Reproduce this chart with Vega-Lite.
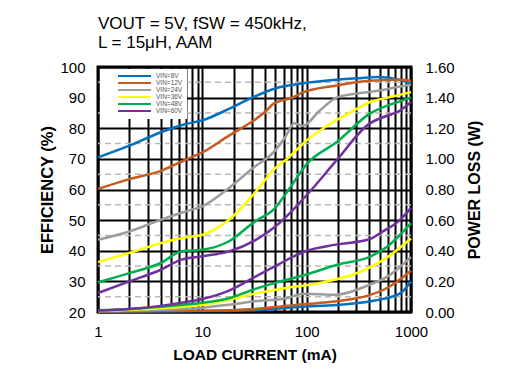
{
  "$schema": "https://vega.github.io/schema/vega-lite/v6.json",
  "width": 313,
  "height": 245,
  "autosize": {"type": "none"},
  "padding": {"left": 98, "top": 67, "right": 117, "bottom": 71},
  "background": "white",
  "title": {
    "text": "VOUT = 5V, fSW = 450kHz,",
    "subtitle": "L = 15μH, AAM",
    "anchor": "start",
    "frame": "group",
    "font": "Liberation Sans",
    "fontSize": 17,
    "fontWeight": "normal",
    "color": "black",
    "subtitleFont": "Liberation Sans",
    "subtitleFontSize": 17,
    "subtitleColor": "black",
    "subtitlePadding": 2,
    "offset": 8
  },
  "config": {
    "view": {"stroke": "black", "strokeWidth": 3},
    "font": "Liberation Sans",
    "axis": {
      "domain": false,
      "ticks": false,
      "labelFontSize": 15,
      "labelColor": "black",
      "titleFontSize": 16,
      "titleFontWeight": "bold",
      "titleColor": "black",
      "gridColor": "black",
      "gridWidth": 2,
      "gridOpacity": 1
    }
  },
  "data": {
    "values": [
      {"s":"VIN=8V","m":"e","i":1,"v":70.5},{"s":"VIN=8V","m":"e","i":2,"v":74.3},{"s":"VIN=8V","m":"e","i":4,"v":78.7},{"s":"VIN=8V","m":"e","i":7,"v":81.4},{"s":"VIN=8V","m":"e","i":10,"v":82.6},{"s":"VIN=8V","m":"e","i":18,"v":86.3},{"s":"VIN=8V","m":"e","i":30,"v":90},{"s":"VIN=8V","m":"e","i":50,"v":93},{"s":"VIN=8V","m":"e","i":90,"v":94.6},{"s":"VIN=8V","m":"e","i":190,"v":95.8},{"s":"VIN=8V","m":"e","i":300,"v":96.3},{"s":"VIN=8V","m":"e","i":500,"v":96.7},{"s":"VIN=8V","m":"e","i":780,"v":95.8},{"s":"VIN=8V","m":"e","i":1000,"v":94.6},
      {"s":"VIN=12V","m":"e","i":1,"v":60.2},{"s":"VIN=12V","m":"e","i":2,"v":63.4},{"s":"VIN=12V","m":"e","i":4,"v":66.1},{"s":"VIN=12V","m":"e","i":7,"v":69.8},{"s":"VIN=12V","m":"e","i":10,"v":72.1},{"s":"VIN=12V","m":"e","i":18,"v":77.6},{"s":"VIN=12V","m":"e","i":31,"v":82.5},{"s":"VIN=12V","m":"e","i":41,"v":85.7},{"s":"VIN=12V","m":"e","i":48,"v":88},{"s":"VIN=12V","m":"e","i":74,"v":90.1},{"s":"VIN=12V","m":"e","i":92,"v":91.7},{"s":"VIN=12V","m":"e","i":190,"v":93.9},{"s":"VIN=12V","m":"e","i":400,"v":95.5},{"s":"VIN=12V","m":"e","i":780,"v":95.8},{"s":"VIN=12V","m":"e","i":1000,"v":95.5},
      {"s":"VIN=24V","m":"e","i":1,"v":43.6},{"s":"VIN=24V","m":"e","i":2,"v":46.3},{"s":"VIN=24V","m":"e","i":4,"v":50.1},{"s":"VIN=24V","m":"e","i":7,"v":52.9},{"s":"VIN=24V","m":"e","i":10,"v":54.5},{"s":"VIN=24V","m":"e","i":18,"v":60.5},{"s":"VIN=24V","m":"e","i":31,"v":67.2},{"s":"VIN=24V","m":"e","i":48,"v":72.1},{"s":"VIN=24V","m":"e","i":62,"v":77},{"s":"VIN=24V","m":"e","i":76,"v":81.6},{"s":"VIN=24V","m":"e","i":92,"v":80.8},{"s":"VIN=24V","m":"e","i":133,"v":85.7},{"s":"VIN=24V","m":"e","i":193,"v":90},{"s":"VIN=24V","m":"e","i":280,"v":91.2},{"s":"VIN=24V","m":"e","i":500,"v":92.3},{"s":"VIN=24V","m":"e","i":780,"v":93.6},{"s":"VIN=24V","m":"e","i":1000,"v":94.2},
      {"s":"VIN=36V","m":"e","i":1,"v":36.3},{"s":"VIN=36V","m":"e","i":2,"v":39.3},{"s":"VIN=36V","m":"e","i":4,"v":42.5},{"s":"VIN=36V","m":"e","i":7,"v":44.4},{"s":"VIN=36V","m":"e","i":10,"v":45.2},{"s":"VIN=36V","m":"e","i":18,"v":50.1},{"s":"VIN=36V","m":"e","i":32,"v":59},{"s":"VIN=36V","m":"e","i":50,"v":67},{"s":"VIN=36V","m":"e","i":64,"v":69.8},{"s":"VIN=36V","m":"e","i":100,"v":76},{"s":"VIN=36V","m":"e","i":160,"v":81},{"s":"VIN=36V","m":"e","i":280,"v":85.7},{"s":"VIN=36V","m":"e","i":400,"v":88.5},{"s":"VIN=36V","m":"e","i":600,"v":90},{"s":"VIN=36V","m":"e","i":1000,"v":91.8},
      {"s":"VIN=48V","m":"e","i":1,"v":29.7},{"s":"VIN=48V","m":"e","i":2,"v":32.7},{"s":"VIN=48V","m":"e","i":4,"v":36},{"s":"VIN=48V","m":"e","i":6.3,"v":39.8},{"s":"VIN=48V","m":"e","i":10,"v":40.3},{"s":"VIN=48V","m":"e","i":18,"v":43.1},{"s":"VIN=48V","m":"e","i":32,"v":49.6},{"s":"VIN=48V","m":"e","i":48,"v":53.4},{"s":"VIN=48V","m":"e","i":69,"v":60.5},{"s":"VIN=48V","m":"e","i":100,"v":68.3},{"s":"VIN=48V","m":"e","i":193,"v":75.4},{"s":"VIN=48V","m":"e","i":400,"v":84.7},{"s":"VIN=48V","m":"e","i":780,"v":88.8},{"s":"VIN=48V","m":"e","i":1000,"v":90.1},
      {"s":"VIN=60V","m":"e","i":1,"v":26.2},{"s":"VIN=60V","m":"e","i":2,"v":30},{"s":"VIN=60V","m":"e","i":4,"v":33.8},{"s":"VIN=60V","m":"e","i":6.3,"v":37.1},{"s":"VIN=60V","m":"e","i":10,"v":38.2},{"s":"VIN=60V","m":"e","i":18,"v":39.8},{"s":"VIN=60V","m":"e","i":32,"v":43.4},{"s":"VIN=60V","m":"e","i":48,"v":47.4},{"s":"VIN=60V","m":"e","i":69,"v":52.3},{"s":"VIN=60V","m":"e","i":115,"v":60.5},{"s":"VIN=60V","m":"e","i":193,"v":69.5},{"s":"VIN=60V","m":"e","i":400,"v":81.5},{"s":"VIN=60V","m":"e","i":580,"v":84},{"s":"VIN=60V","m":"e","i":780,"v":85.7},{"s":"VIN=60V","m":"e","i":1000,"v":88.6},
      {"s":"VIN=8V","m":"p","i":1,"v":0.002},{"s":"VIN=8V","m":"p","i":10,"v":0.006},{"s":"VIN=8V","m":"p","i":32,"v":0.012},{"s":"VIN=8V","m":"p","i":92,"v":0.035},{"s":"VIN=8V","m":"p","i":193,"v":0.045},{"s":"VIN=8V","m":"p","i":450,"v":0.075},{"s":"VIN=8V","m":"p","i":780,"v":0.12},{"s":"VIN=8V","m":"p","i":1000,"v":0.2},
      {"s":"VIN=12V","m":"p","i":1,"v":0.003},{"s":"VIN=12V","m":"p","i":10,"v":0.008},{"s":"VIN=12V","m":"p","i":32,"v":0.02},{"s":"VIN=12V","m":"p","i":92,"v":0.05},{"s":"VIN=12V","m":"p","i":193,"v":0.07},{"s":"VIN=12V","m":"p","i":400,"v":0.11},{"s":"VIN=12V","m":"p","i":600,"v":0.16},{"s":"VIN=12V","m":"p","i":1000,"v":0.27},
      {"s":"VIN=24V","m":"p","i":1,"v":0.006},{"s":"VIN=24V","m":"p","i":4,"v":0.015},{"s":"VIN=24V","m":"p","i":10,"v":0.028},{"s":"VIN=24V","m":"p","i":18,"v":0.048},{"s":"VIN=24V","m":"p","i":32,"v":0.07},{"s":"VIN=24V","m":"p","i":64,"v":0.09},{"s":"VIN=24V","m":"p","i":92,"v":0.12},{"s":"VIN=24V","m":"p","i":193,"v":0.113},{"s":"VIN=24V","m":"p","i":400,"v":0.178},{"s":"VIN=24V","m":"p","i":600,"v":0.233},{"s":"VIN=24V","m":"p","i":1000,"v":0.36},
      {"s":"VIN=36V","m":"p","i":1,"v":0.009},{"s":"VIN=36V","m":"p","i":4,"v":0.025},{"s":"VIN=36V","m":"p","i":10,"v":0.048},{"s":"VIN=36V","m":"p","i":18,"v":0.08},{"s":"VIN=36V","m":"p","i":32,"v":0.12},{"s":"VIN=36V","m":"p","i":64,"v":0.157},{"s":"VIN=36V","m":"p","i":133,"v":0.19},{"s":"VIN=36V","m":"p","i":280,"v":0.245},{"s":"VIN=36V","m":"p","i":400,"v":0.29},{"s":"VIN=36V","m":"p","i":600,"v":0.36},{"s":"VIN=36V","m":"p","i":1000,"v":0.48},
      {"s":"VIN=48V","m":"p","i":1,"v":0.012},{"s":"VIN=48V","m":"p","i":2,"v":0.02},{"s":"VIN=48V","m":"p","i":4,"v":0.035},{"s":"VIN=48V","m":"p","i":10,"v":0.06},{"s":"VIN=48V","m":"p","i":18,"v":0.09},{"s":"VIN=48V","m":"p","i":32,"v":0.15},{"s":"VIN=48V","m":"p","i":50,"v":0.19},{"s":"VIN=48V","m":"p","i":100,"v":0.245},{"s":"VIN=48V","m":"p","i":200,"v":0.31},{"s":"VIN=48V","m":"p","i":400,"v":0.36},{"s":"VIN=48V","m":"p","i":600,"v":0.43},{"s":"VIN=48V","m":"p","i":1000,"v":0.58},
      {"s":"VIN=60V","m":"p","i":1,"v":0.01},{"s":"VIN=60V","m":"p","i":2,"v":0.02},{"s":"VIN=60V","m":"p","i":4,"v":0.04},{"s":"VIN=60V","m":"p","i":7,"v":0.065},{"s":"VIN=60V","m":"p","i":10,"v":0.085},{"s":"VIN=60V","m":"p","i":18,"v":0.14},{"s":"VIN=60V","m":"p","i":32,"v":0.23},{"s":"VIN=60V","m":"p","i":50,"v":0.3},{"s":"VIN=60V","m":"p","i":100,"v":0.4},{"s":"VIN=60V","m":"p","i":190,"v":0.44},{"s":"VIN=60V","m":"p","i":400,"v":0.475},{"s":"VIN=60V","m":"p","i":520,"v":0.52},{"s":"VIN=60V","m":"p","i":780,"v":0.6},{"s":"VIN=60V","m":"p","i":1000,"v":0.68}
    ]
  },
  "layer": [
    {
      "data": {"values": [{"g":25},{"g":35},{"g":45},{"g":55},{"g":65},{"g":75},{"g":85},{"g":95}]},
      "mark": {"type": "rule", "color": "#b8b8b8", "strokeWidth": 1.5, "strokeDash": [6, 4]},
      "encoding": {
        "y": {"field": "g", "type": "quantitative", "scale": {"domain": [20, 100]}, "axis": null}
      }
    },
    {
      "transform": [{"filter": "datum.m == 'e'"}],
      "mark": {"type": "line", "strokeWidth": 2.5, "interpolate": "monotone"},
      "encoding": {
        "x": {
          "field": "i", "type": "quantitative",
          "scale": {"type": "log", "domain": [1, 1000], "nice": false},
          "axis": {
            "values": [1,2,3,4,5,6,7,8,9,10,20,30,40,50,60,70,80,90,100,200,300,400,500,600,700,800,900,1000],
            "labelExpr": "(datum.value == 1 || datum.value == 10 || datum.value == 100 || datum.value == 1000) ? format(datum.value, 'd') : ''",
            "labelFlush": false,
            "labelPadding": 12,
            "title": "LOAD CURRENT  (mA)",
            "titleFontSize": 15.5,
            "titlePadding": 8,
            "grid": true
          }
        },
        "y": {
          "field": "v", "type": "quantitative",
          "scale": {"domain": [20, 100], "nice": false},
          "axis": {
            "orient": "left",
            "values": [20,30,40,50,60,70,80,90,100],
            "labelPadding": 13,
            "title": "EFFICIENCY   (%)",
            "titleFontSize": 16.5,
            "titlePadding": 4,
            "grid": true
          }
        },
        "color": {
          "field": "s", "type": "nominal",
          "scale": {
            "domain": ["VIN=8V","VIN=12V","VIN=24V","VIN=36V","VIN=48V","VIN=60V"],
            "range": ["#0070C0","#C65B1E","#9C9C9C","#FFFF00","#00B050","#7030A0"]
          },
          "legend": {
            "title": null,
            "orient": "top-left",
            "offset": 2,
            "padding": 4,
            "fillColor": "white",
            "strokeColor": null,
            "symbolType": "stroke",
            "symbolSize": 1089,
            "symbolStrokeWidth": 2,
            "clipHeight": 6,
            "rowPadding": 0,
            "symbolOffset": 13,
            "labelOffset": 4,
            "labelFontSize": 6.5,
            "labelColor": "#555555",
            "labelExpr": "datum.label + '\u00a0\u00a0\u00a0\u00a0\u00a0\u00a0\u00a0\u00a0\u00a0\u00a0\u00a0\u00a0\u00a0\u00a0\u00a0\u00a0\u00a0\u00a0\u00a0\u00a0\u00a0'"
          }
        }
      }
    },
    {
      "transform": [{"filter": "datum.m == 'p'"}],
      "mark": {"type": "line", "strokeWidth": 2.5, "interpolate": "monotone"},
      "encoding": {
        "x": {"field": "i", "type": "quantitative", "scale": {"type": "log", "domain": [1, 1000], "nice": false}},
        "y": {
          "field": "v", "type": "quantitative",
          "scale": {"domain": [0, 1.6], "nice": false},
          "axis": {
            "orient": "right",
            "values": [0,0.2,0.4,0.6,0.8,1.0,1.2,1.4,1.6],
            "format": ".2f",
            "labelPadding": 14,
            "title": "POWER LOSS (W)",
            "titleAngle": 270,
            "titleBaseline": "top",
            "titlePadding": 12,
            "grid": false
          }
        },
        "color": {"field": "s", "type": "nominal"}
      }
    }
  ],
  "resolve": {"scale": {"y": "independent"}}
}
